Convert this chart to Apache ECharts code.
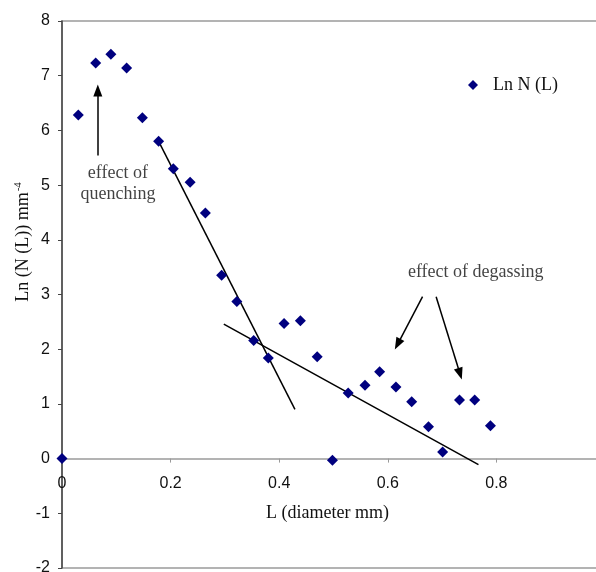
<!DOCTYPE html>
<html><head><meta charset="utf-8">
<script src="https://cdn.jsdelivr.net/npm/echarts@6/dist/echarts.min.js"></script>
<style>html,body{margin:0;padding:0;background:#fff}#c{width:596px;height:572px}</style>
</head><body><div id="c"></div>
<script>
// Data
var L = [0, 0.030, 0.062, 0.090, 0.119, 0.148, 0.178, 0.205, 0.236, 0.264, 0.294, 0.322, 0.353, 0.380, 0.409, 0.439, 0.470, 0.498, 0.527, 0.558, 0.585, 0.615, 0.644, 0.675, 0.701, 0.732, 0.760, 0.789];
var lnN = [0, 6.28, 7.23, 7.39, 7.14, 6.23, 5.80, 5.30, 5.05, 4.49, 3.35, 2.87, 2.16, 1.84, 2.47, 2.52, 1.86, -0.03, 1.20, 1.34, 1.59, 1.31, 1.04, 0.58, 0.12, 1.07, 1.07, 0.60];
var fit1 = [[0.178, 5.80], [0.429, 0.90]];
var fit2 = [[0.298, 2.46], [0.767, -0.11]];
var arrowQuench = [[0.066, 5.54], [0.066, 6.73]];
var arrowDegas1 = [[0.664, 2.96], [0.618, 2.09]];
var arrowDegas2 = [[0.689, 2.96], [0.733, 1.55]];
var textQuench = [0.103, 5.03];
var textDegas = [0.762, 3.40];
var xTicks = {min: 0, max: 1, interval: 0.2};
var yTicks = {min: -2, max: 8, interval: 1};

var serif = '"Liberation Serif", "Times New Roman", serif';
var sans = '"Liberation Sans", Arial, sans-serif';

var pts = L.map(function (x, i) { return [x, lnN[i]]; });

var chart = echarts.init(document.getElementById('c'), null, {renderer: 'canvas'});
function arrowLine(a) {
  return [{coord: a[0], symbol: 'none'}, {coord: a[1], symbol: 'triangle'}];
}
var gridTop = 21, gridBottom = 4;
var plotH = 572 - gridTop - gridBottom;
// x axis sits at y = 0: shift it up from the bottom of the grid by the height of [min, 0]
var xOffset = -plotH * (0 - yTicks.min) / (yTicks.max - yTicks.min);
chart.setOption({
  animation: false,
  backgroundColor: '#fff',
  grid: {left: 62, right: -9, top: gridTop, bottom: gridBottom, containLabel: false, outerBoundsMode: 'none',
         show: true, borderColor: '#9a9a9a', borderWidth: 1.5},
  legend: {
    show: true, left: 463, top: 71, itemWidth: 10, itemHeight: 10, itemGap: 8,
    textStyle: {fontFamily: serif, fontSize: 18, color: '#111', padding: [0, 0, 0, 10]},
    data: [{name: 'Ln N (L)', icon: 'diamond'}]
  },
  xAxis: {
    type: 'value', min: xTicks.min, max: xTicks.max, interval: xTicks.interval,
    offset: xOffset,
    name: 'L (diameter mm)', nameLocation: 'middle', nameGap: 46, nameMoveOverlap: false,
    nameTextStyle: {fontFamily: serif, fontSize: 18, color: '#111', padding: [0, 12, 0, 0]},
    axisLine: {onZero: false, lineStyle: {color: '#9a9a9a', width: 1.5}},
    axisTick: {show: true, length: 4, lineStyle: {color: '#9a9a9a'}},
    axisLabel: {fontFamily: sans, fontSize: 16, color: '#111', margin: 17},
    splitLine: {show: false}
  },
  yAxis: {
    type: 'value', min: yTicks.min, max: yTicks.max, interval: yTicks.interval,
    name: '{a|Ln (N (L)) mm}{b|-4}', nameLocation: 'middle', nameGap: 28, nameRotate: 90, nameMoveOverlap: false,
    nameTextStyle: {
      fontFamily: serif, fontSize: 18, color: '#111', padding: [0, 0, 0, 105],
      rich: {a: {fontFamily: serif, fontSize: 18, color: '#111'}, b: {fontFamily: serif, fontSize: 11, color: '#111', padding: [0, 0, 10, 1]}}
    },
    axisLine: {show: true, onZero: false, lineStyle: {color: '#444', width: 1.5}},
    axisTick: {show: true, length: 4, lineStyle: {color: '#444'}},
    axisLabel: {fontFamily: sans, fontSize: 16, color: '#111', margin: 12},
    splitLine: {show: false}
  },
  series: [
    {
      name: 'Ln N (L)', type: 'scatter', data: pts, symbol: 'diamond', symbolSize: [11, 11],
      itemStyle: {color: '#00007f', opacity: 1}, z: 5
    },
    {
      type: 'line', data: fit1, symbol: 'none', lineStyle: {color: '#000', width: 1.5}, z: 4, silent: true
    },
    {
      type: 'line', data: fit2, symbol: 'none', lineStyle: {color: '#000', width: 1.5}, z: 4, silent: true,
      markLine: {
        silent: true, symbolSize: [9, 12], animation: false,
        lineStyle: {color: '#000', width: 1.5, type: 'solid'},
        label: {show: false},
        data: [arrowLine(arrowQuench), arrowLine(arrowDegas1), arrowLine(arrowDegas2)]
      }
    },
    {
      type: 'scatter', symbolSize: 0, silent: true, z: 6,
      data: [
        {value: textQuench, label: {formatter: 'effect of\nquenching'}},
        {value: textDegas, label: {formatter: 'effect of degassing'}}
      ],
      label: {show: true, position: 'inside', fontFamily: serif, fontSize: 18, color: '#111', lineHeight: 21, align: 'center', verticalAlign: 'middle'}
    }
  ]
});
</script></body></html>
